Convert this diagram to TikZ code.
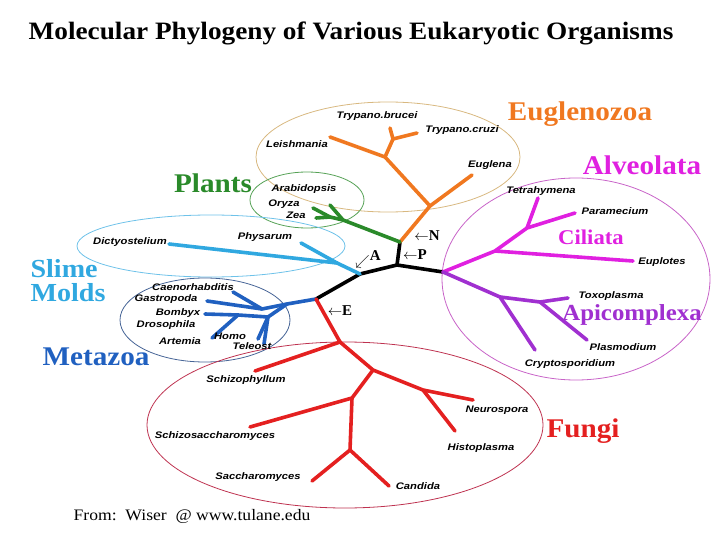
\documentclass[tikz,border=0pt]{standalone}
\usepackage{fontspec}
\setmainfont{Liberation Serif}
\newfontfamily\spf{Liberation Sans}
\begin{document}
\begin{tikzpicture}[x=1pt,y=-1pt,
 br/.style={line width=3.6pt,line cap=round,line join=round},
 sp/.style={font=\spf\bfseries\itshape\fontsize{9.5}{10}\selectfont,inner sep=0pt,xscale=1.18},
 grp/.style={font=\bfseries\fontsize{27}{27}\selectfont,inner sep=0pt,xscale=1.08},
 ell/.style={line width=0.8pt},
 mk/.style={font=\bfseries\fontsize{15}{15}\selectfont,inner sep=0pt}]
\useasboundingbox (0,0) rectangle (720,540);
\definecolor{cor}{HTML}{F07820}\definecolor{cgr}{HTML}{2A8A2A}
\definecolor{ccy}{HTML}{30A8E0}\definecolor{cbl}{HTML}{2060C0}
\definecolor{cre}{HTML}{E42020}\definecolor{cma}{HTML}{E020E0}
\definecolor{cpu}{HTML}{A030D0}
% ellipses
\draw[ell,draw={rgb,255:red,216;green,184;blue,128}] (388,157) ellipse [x radius=132,y radius=55];
\draw[ell,draw=cgr!80] (307,200) ellipse [x radius=57,y radius=28];
\draw[ell,draw=ccy!70] (211,246) ellipse [x radius=134,y radius=31];
\draw[ell,draw={rgb,255:red,70;green,100;blue,150}] (205,320) ellipse [x radius=85,y radius=42];
\draw[ell,draw={rgb,255:red,200;green,100;blue,200}] (576,279) ellipse [x radius=134,y radius=101];
\draw[ell,draw={rgb,255:red,190;green,50;blue,80}] (345,425) ellipse [x radius=198,y radius=83];
% junctions
\coordinate (C) at (397,265); \coordinate (NP) at (400,242);
\coordinate (CA) at (360,274); \coordinate (CE) at (316,299);
\coordinate (CM) at (443,272);
% black
\draw[br,black] (NP)--(C)--(CM); \draw[br,black] (C)--(CA)--(CE);
% orange
\coordinate (o1) at (430,206); \coordinate (o2) at (385,157); \coordinate (o3) at (393,139);
\draw[br,cor] (NP)--(o1)--(472,175); \draw[br,cor] (o1)--(o2)--(330,137);
\draw[br,cor] (o2)--(o3)--(390,128); \draw[br,cor] (o3)--(417,133);
% green
\coordinate (g1) at (343,220); \coordinate (g2) at (330,217);
\draw[br,cgr] (NP)--(g1)--(330,205); \draw[br,cgr] (g1)--(g2)--(313,208); \draw[br,cgr] (g2)--(316,218);
% cyan
\coordinate (c1) at (337,263);
\draw[br,ccy] (CA)--(c1)--(169,244); \draw[br,ccy] (c1)--(301,243);
% blue
\coordinate (b0) at (287,304); \coordinate (b1) at (262,309); \coordinate (b2) at (268,317);
\coordinate (b3) at (238,315);
\draw[br,cbl] (CE)--(b0)--(b1)--(233,292); \draw[br,cbl] (b1)--(207,301);
\draw[br,cbl] (b0)--(b2)--(258,339); \draw[br,cbl] (b2)--(264,344);
\draw[br,cbl] (b2)--(b3)--(205,314); \draw[br,cbl] (b3)--(212,338);
% red
\coordinate (r1) at (340,342); \coordinate (r2) at (373,370); \coordinate (r3) at (423,390);
\coordinate (r4) at (352,398); \coordinate (r5) at (350,450);
\draw[br,cre] (CE)--(r1)--(255,371); \draw[br,cre] (r1)--(r2)--(r3)--(473,400);
\draw[br,cre] (r3)--(455,431); \draw[br,cre] (r2)--(r4)--(250,427);
\draw[br,cre] (r4)--(r5)--(312,481); \draw[br,cre] (r5)--(389,486);
% magenta
\coordinate (m1) at (495,251); \coordinate (m2) at (527,228);
\draw[br,cma] (CM)--(m1)--(m2)--(575,213); \draw[br,cma] (m2)--(538,198); \draw[br,cma] (m1)--(633,261);
\coordinate (p1) at (500,297); \coordinate (p2) at (540,302);
\draw[br,cpu] (CM)--(p1)--(535,350); \draw[br,cpu] (p1)--(p2)--(568,298); \draw[br,cpu] (p2)--(587,340);
% species
\node[sp] (tb) at (377,116) {Trypano.brucei};
\node[sp] (tc) at (462,130) {Trypano.cruzi};
\node[sp] (le) at (297,144) {Leishmania};
\node[sp] (eu) at (490,165) {Euglena};
\node[sp] (ar) at (304,189) {Arabidopsis};
\node[sp] (or) at (284,204) {Oryza};
\node[sp] (ze) at (296,215) {Zea};
\node[sp] (ph) at (265,237) {Physarum};
\node[sp] (di) at (130,242) {Dictyostelium};
\node[sp] (ca) at (193,287) {Caenorhabditis};
\node[sp] (ga) at (166,299) {Gastropoda};
\node[sp] (bo) at (178,313) {Bombyx};
\node[sp] (dr) at (166,325) {Drosophila};
\node[sp] (at) at (180,341) {Artemia};
\node[sp] (ho) at (230,336) {Homo};
\node[sp] (te) at (252,346) {Teleost};
\node[sp] (sf) at (246,380) {Schizophyllum};
\node[sp] (ss) at (215,436) {Schizosaccharomyces};
\node[sp] (sa) at (258,477) {Saccharomyces};
\node[sp] (cd) at (418,486) {Candida};
\node[sp] (ne) at (497,410) {Neurospora};
\node[sp] (hi) at (481,448) {Histoplasma};
\node[sp] (tt) at (541,191) {Tetrahymena};
\node[sp] (pa) at (615,211) {Paramecium};
\node[sp] (ep) at (662,262) {Euplotes};
\node[sp] (tx) at (611,296) {Toxoplasma};
\node[sp] (pl) at (623,347) {Plasmodium};
\node[sp] (cr) at (570,364) {Cryptosporidium};
% groups
\node[grp,text=cor] (gE) at (580,114) {Euglenozoa};
\node[grp,text=cma] (gA) at (642,165) {Alveolata};
\node[grp,text=cgr] (gP) at (213,183) {Plants};
\node[grp,text=ccy,align=left,font=\bfseries\fontsize{26}{24}\selectfont] (gS) at (68,281) {Slime\\Molds};
\node[grp,text=cbl] (gM) at (96,357) {Metazoa};
\node[grp,text=cma,font=\bfseries\fontsize{21}{21}\selectfont] (gC) at (591,237) {Ciliata};
\node[grp,text=cpu,font=\bfseries\fontsize{23}{23}\selectfont] (gX) at (632,315) {Apicomplexa};
\node[grp,text=cre] (gF) at (583,431) {Fungi};
% markers
\node[mk] (mN) at (427,236) {$\leftarrow$N};
\node[mk] (mP) at (415,255) {$\leftarrow$P};
\node[mk] (mA) at (368,259) {$\swarrow$\raisebox{5pt}{A}};
\node[mk] (mE) at (340,311) {$\leftarrow$E};
% title/footer
\node[inner sep=0pt,font=\bfseries\fontsize{25}{25}\selectfont,xscale=1.09] (title) at (351,33) {Molecular Phylogeny of Various Eukaryotic Organisms};
\node[inner sep=0pt,font=\fontsize{16}{16}\selectfont,xscale=1.1] (foot) at (192,516) {From:\ \ Wiser\ \ @ www.tulane.edu};
\end{tikzpicture}
\end{document}
